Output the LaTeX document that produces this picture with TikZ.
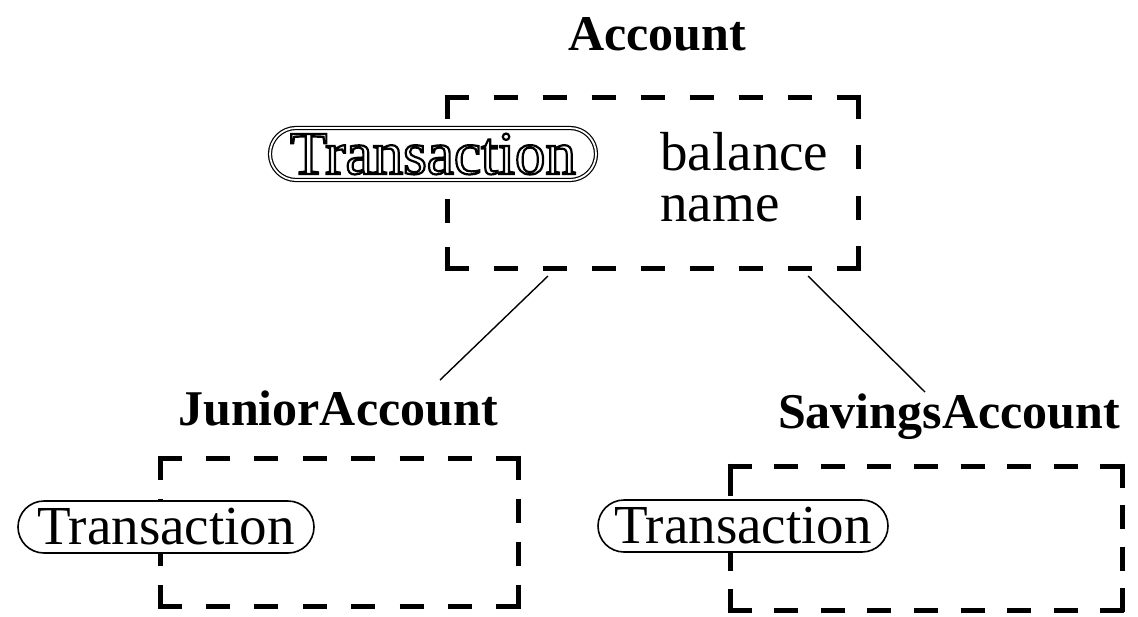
\documentclass[tikz,border=0pt]{standalone}
\usepackage{fontspec}
\setmainfont{Liberation Serif}
\usetikzlibrary{shapes.misc}
\newcommand{\hollowtext}[1]{\special{pdf:literal direct 1 Tr 1.1 w}#1\special{pdf:literal direct 0 Tr}}
\begin{document}
\begin{tikzpicture}[x=0.5pt,y=-0.5pt,
  cbox/.style={draw,line width=2.5pt},
  title/.style={font=\fontsize{25}{25}\selectfont\bfseries,inner sep=0pt},
  attr/.style={font=\fontsize{27.5}{27.5}\selectfont,inner sep=0pt,anchor=base west},
  oval/.style={draw,fill=white,rounded rectangle,line width=0.8pt,inner sep=0pt,
    minimum height=26pt,font=\fontsize{27.5}{27.5}\selectfont},
  link/.style={line width=0.7pt}]
\useasboundingbox (0,0) rectangle (1138,616);
% box corners
\coordinate (a-nw) at (447,97);  \coordinate (a-ne) at (858,97);
\coordinate (a-sw) at (447,268); \coordinate (a-se) at (858,268);
\coordinate (j-nw) at (160,458); \coordinate (j-ne) at (518,458);
\coordinate (j-sw) at (160,606); \coordinate (j-se) at (518,606);
\coordinate (s-nw) at (730,466); \coordinate (s-ne) at (1122,466);
\coordinate (s-sw) at (730,610); \coordinate (s-se) at (1122,610);
% Account
\node[title,anchor=base] (acctitle) at (657,50) {Account};
\coordinate (accbox1) at (548,276);
\coordinate (accbox2) at (808,276);
\node[attr] (bal) at (660,170) {balance};
\node[attr] (nam) at (660,221) {name};
\node[oval,minimum width=163pt,double=white,double distance=0.9pt,line width=0.6pt] (tr1) at (433,154)
  {\fontsize{30.5}{30.5}\selectfont\hollowtext{Transaction}};
% Junior
\node[title,anchor=base] (jtitle) at (338,425) {JuniorAccount};
\node[oval,minimum width=148pt] (tr2) at (166,527) {Transaction};
% Savings
\node[title,anchor=base] (stitle) at (949,428) {SavingsAccount};
\node[oval,minimum width=145pt] (tr3) at (743,526) {Transaction};
% Account box
\draw[cbox,dash pattern=on 12pt off 12.5pt] ([xshift=-1.25pt]a-nw) -- ([xshift=1.25pt]a-ne);
\draw[cbox,dash pattern=on 12pt off 12.5pt] ([xshift=-1.25pt]a-sw) -- ([xshift=1.25pt]a-se);
\draw[cbox,dash pattern=on 12pt off 13.33pt] ([yshift=1.25pt]a-ne) -- ([yshift=-1.25pt]a-se);
\draw[cbox,dash pattern=on 12pt off 12pt] ([yshift=1.25pt]a-nw) -- (tr1.north -| a-nw);
\draw[cbox,dash pattern=on 12pt off 12pt] ([yshift=-1.25pt]a-sw) -- (tr1.south -| a-sw);
% Junior box
\draw[cbox,dash pattern=on 12pt off 12.21pt] ([xshift=-1.25pt]j-nw) -- ([xshift=1.25pt]j-ne);
\draw[cbox,dash pattern=on 12pt off 12.21pt] ([xshift=-1.25pt]j-sw) -- ([xshift=1.25pt]j-se);
\draw[cbox,dash pattern=on 12pt off 9.5pt] ([yshift=1.25pt]j-ne) -- ([yshift=-1.25pt]j-se);
\draw[cbox,dash pattern=on 12pt off 9.5pt] ([yshift=1.25pt]j-nw) -- (tr2.north -| j-nw);
\draw[cbox,dash pattern=on 12pt off 9.5pt] ([yshift=-1.25pt]j-sw) -- (tr2.south -| j-sw);
% Savings box
\draw[cbox,dash pattern=on 12pt off 11.31pt] ([xshift=-1.25pt]s-nw) -- ([xshift=1.25pt]s-ne);
\draw[cbox,dash pattern=on 12pt off 11.31pt] ([xshift=-1.25pt]s-sw) -- ([xshift=1.25pt]s-se);
\draw[cbox,dash pattern=on 12pt off 8.83pt] ([yshift=1.25pt]s-ne) -- ([yshift=-1.25pt]s-se);
\draw[cbox,dash pattern=on 16pt off 8.83pt] ([yshift=1.25pt]s-nw) -- (tr3.north -| s-nw);
\draw[cbox,dash pattern=on 12pt off 8.83pt] ([yshift=-1.25pt]s-sw) -- (tr3.south -| s-sw);
% connectors
\coordinate (jtop) at (440,380);
\coordinate (stop) at (925,392);
\draw[link] (accbox1) -- (jtop);
\draw[link] (accbox2) -- (stop);
\end{tikzpicture}
\end{document}
